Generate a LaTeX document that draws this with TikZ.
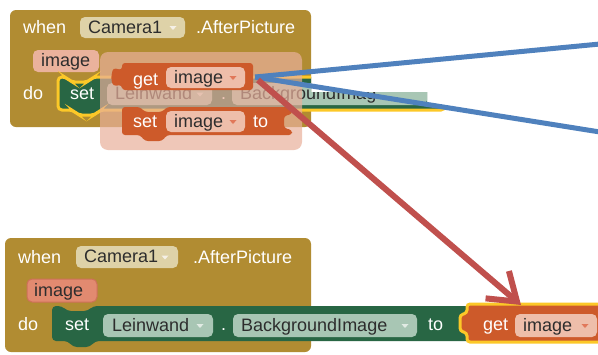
\documentclass[tikz,border=0pt]{standalone}
\usepackage{fontspec}
\setmainfont{Liberation Sans}
\usetikzlibrary{arrows.meta}
\definecolor{evbrown}{RGB}{177,140,50}
\definecolor{campill}{RGB}{222,210,168}
\definecolor{parpillA}{RGB}{234,178,156}
\definecolor{parpillB}{RGB}{226,138,112}
\definecolor{parborder}{RGB}{205,112,88}
\definecolor{setgreen}{RGB}{40,102,68}
\definecolor{greenpill}{RGB}{168,198,180}
\definecolor{varorange}{RGB}{205,90,42}
\definecolor{orpill}{RGB}{238,190,170}
\definecolor{hilite}{RGB}{252,200,40}
\definecolor{overlayc}{RGB}{233,176,155}
\definecolor{blueline}{RGB}{79,129,189}
\definecolor{redline}{RGB}{192,80,77}
\definecolor{txtdark}{RGB}{45,45,45}
\definecolor{trilight}{RGB}{245,240,230}
\definecolor{triorange}{RGB}{225,120,90}
\definecolor{trigreen}{RGB}{225,235,228}
\newcommand\blk{\fontsize{18}{21}\selectfont}
\newcommand\pill[8]{%
  \node[pillbg,#6,minimum width=#4-#2,minimum height=#5-#3] (#1) at ({(#2+#4)/2},{(#3+#5)/2}) {};
  \node[ptxt] (#1-t) at (#7,{(#3+#5)/2+5.5}) {#8};
}
\newcommand\ddtri[3]{\fill[#3] (#1-3.5,#2-1.5) -- (#1+3.5,#2-1.5) -- (#1,#2+2.5) -- cycle;}
\begin{document}
\begin{tikzpicture}[x=1pt,y=-1pt,
  lbl/.style={text=white,font=\blk,inner sep=0pt,anchor=base west},
  ptxt/.style={text=txtdark,font=\blk,inner sep=0pt,anchor=base west},
  pillbg/.style={rounded corners=5pt,inner sep=0pt,anchor=center},
  blueln/.style={draw=blueline,line width=5pt},
  redarr/.style={draw=redline,line width=6pt,-{Straight Barb[length=26pt,width=36pt]}},
]
\fill[white] (0,0) rectangle (598,354);
\useasboundingbox (0,0) rectangle (598,354);

% ---------- top event block ----------
\fill[evbrown, rounded corners=6pt] (10,10) rectangle (311,127);
\node[lbl] (w1) at (23,33) {when};
\pill{cam1}{80}{17}{185}{38}{fill=campill}{88}{Camera1}
\ddtri{173}{27.5}{trilight}
\node[lbl] (ap1) at (196,33) {.AfterPicture};
\pill{par1}{33}{50}{99}{72}{fill=parpillA}{41}{image}
\node[lbl] (do1) at (23,99) {do};

\begin{scope}
  \clip (0,0) rectangle (311,140) (311,92) rectangle (427,112) (427,105) rectangle (447,112);
  \draw[fill=setgreen, draw=hilite, line width=3pt, rounded corners=4pt]
    (58,77) -- (66,77) -- (71,82) -- (88,82) -- (93,77) -- (445,77) -- (445,110)
    -- (100,110) -- (95,115) -- (78,115) -- (73,110) -- (58,110) -- cycle;
  \node[lbl] (set1) at (70,99) {set};
  \pill{lw1}{107}{83}{212}{105}{fill=greenpill}{115}{Leinwand}
  \ddtri{200}{94}{trigreen}
  \node[lbl] (dot1) at (221,99) {.};
  \pill{bg1}{232}{83}{427}{105}{fill=greenpill}{240}{BackgroundImag}
\end{scope}

% drag highlight
\fill[overlayc, opacity=.7, rounded corners=8pt] (100,52) rectangle (302,150);

% get image (dragged)
\fill[varorange, rounded corners=3pt] (122,63) -- (253,63) -- (253,90) -- (122,90)
  -- (122,85) -- (113,86) -- (111,78) -- (113,68) -- (122,70) -- cycle;
\node[lbl] (get1) at (133,85) {get};
\pill{gimg1}{166}{67}{245}{88}{fill=orpill}{174}{image}
\ddtri{233}{77.5}{triorange}

% set image to (dragged)
\fill[varorange, rounded corners=3pt] (122,107) -- (140,107) -- (145,112) -- (162,112)
  -- (167,107) -- (292,107) -- (292,114) -- (284,116) -- (284,128) -- (292,130)
  -- (292,135) -- (167,135) -- (162,141) -- (145,141) -- (140,135) -- (122,135) -- cycle;
\node[lbl] (set2) at (133,127) {set};
\pill{simg1}{166}{111}{245}{132}{fill=orpill}{174}{image}
\ddtri{233}{121.5}{triorange}
\node[lbl] (to1) at (253,127) {to};

% ---------- bottom event block ----------
\fill[evbrown, rounded corners=6pt] (5,238) rectangle (311,352);
\node[lbl] (w2) at (18,263) {when};
\pill{cam2}{76}{246}{178}{268}{fill=campill}{84}{Camera1}
\ddtri{165}{257}{trilight}
\node[lbl] (ap2) at (193,263) {.AfterPicture};
\pill{par2}{27}{279}{97}{302}{fill=parpillB,draw=parborder,line width=1pt}{34}{image}
\node[lbl] (do2) at (18,330) {do};

\fill[setgreen, rounded corners=4pt] (52,306) -- (62,306) -- (67,311) -- (88,311) -- (93,306)
  -- (475,306) -- (475,341) -- (95,341) -- (90,347) -- (73,347) -- (68,341) -- (52,341) -- cycle;
\node[lbl] (set3) at (65,330) {set};
\pill{lw2}{103}{314}{213}{337}{fill=greenpill}{112}{Leinwand}
\ddtri{200}{325.5}{trigreen}
\node[lbl] (dot2) at (221,330) {.};
\pill{bg2}{233}{314}{417}{337}{fill=greenpill}{241}{BackgroundImage}
\ddtri{405}{325.5}{trigreen}
\node[lbl] (to2) at (428,330) {to};

\draw[fill=varorange, draw=hilite, line width=3pt, rounded corners=3pt]
  (615,304) -- (467,304) -- (467,313) -- (460,315) -- (460,331) -- (467,333) -- (467,342) -- (615,342);
\node[lbl] (get2) at (483,330) {get};
\pill{gimg2}{515}{314}{597}{337}{fill=orpill}{523}{image}
\ddtri{585}{325.5}{triorange}

% ---------- connectors ----------
\coordinate (src) at (255,77);
\coordinate (srcr) at (258,80);
\coordinate (b1) at (600,44);
\coordinate (b2) at (600,132);
\coordinate (tgt) at (521,305);
\draw[blueln] (src) -- (b1);
\draw[blueln] (src) -- (b2);
\draw[redarr] (srcr) -- (tgt);
\end{tikzpicture}
\end{document}
